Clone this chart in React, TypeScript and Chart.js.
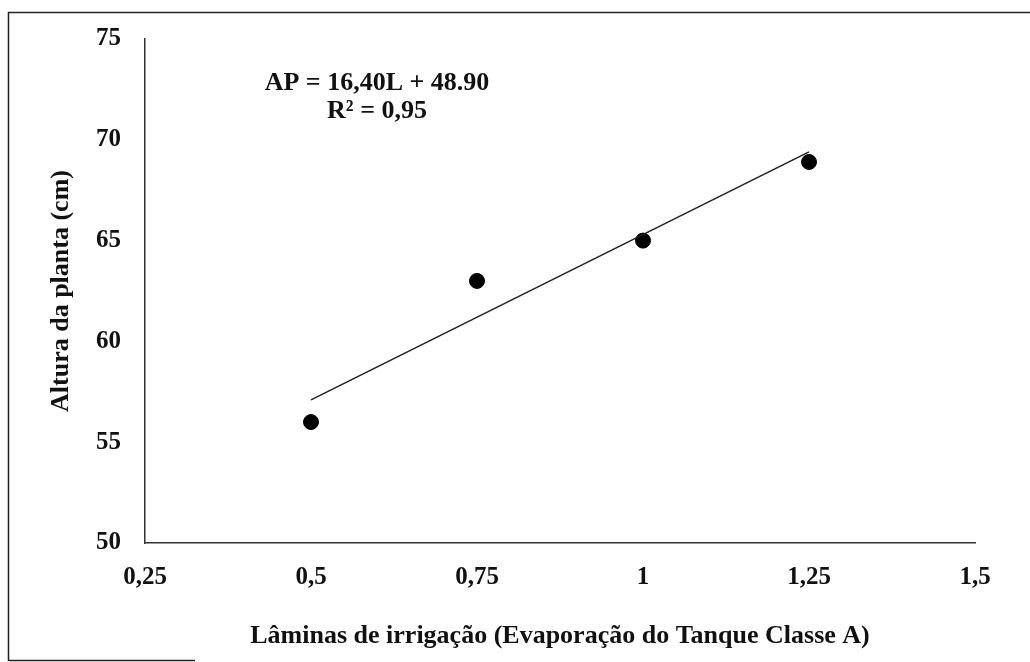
import React, { useEffect, useRef } from "react";
import { Chart, registerables } from "chart.js";

Chart.register(...registerables);

const laminas = [0.5, 0.75, 1, 1.25];
const altura = [56, 63, 65, 68.9];
const trendX = [0.5, 1.25];
const trendY = [57.1, 69.4];
const xTickValues = [0.25, 0.5, 0.75, 1, 1.25, 1.5];
const xTickLabels = ["0,25", "0,5", "0,75", "1", "1,25", "1,5"];
const equationLines = ["AP = 16,40L + 48.90", "R² = 0,95"];
const xTitle = "Lâminas de irrigação (Evaporação do Tanque Classe A)";
const yTitle = "Altura da planta (cm)";

const FONT = "'Liberation Serif', 'Times New Roman', serif";
const LEFT_PAD = 42;

const framePlugin = {
  id: "frameAndEquation",
  afterDraw(chart: any) {
    const ctx = chart.ctx;
    ctx.save();
    ctx.strokeStyle = "#222";
    ctx.lineWidth = 1.5;
    ctx.beginPath();
    ctx.moveTo(8.5, 661);
    ctx.lineTo(8.5, 12.5);
    ctx.lineTo(1030, 12.5);
    ctx.stroke();
    ctx.beginPath();
    ctx.moveTo(8.5, 660.5);
    ctx.lineTo(195, 660.5);
    ctx.stroke();
    ctx.fillStyle = "#111";
    ctx.font = `bold 26px ${FONT}`;
    ctx.textAlign = "center";
    ctx.textBaseline = "middle";
    const xs = chart.scales.x;
    const ys = chart.scales.y;
    const cx = xs.getPixelForValue(0.25) + 232;
    const cy = ys.getPixelForValue(75) + 44;
    equationLines.forEach((t, i) => ctx.fillText(t, cx, cy + i * 28));
    ctx.restore();
  },
};

export default function App() {
  const ref = useRef<HTMLCanvasElement>(null);
  useEffect(() => {
    const chart = new Chart(ref.current!, {
      type: "scatter",
      data: {
        datasets: [
          {
            type: "line",
            label: "Tendência",
            data: trendX.map((x, i) => ({ x, y: trendY[i] })),
            borderColor: "#222",
            borderWidth: 1.6,
            pointRadius: 0,
            fill: false,
          },
          {
            label: "Altura",
            data: laminas.map((x, i) => ({ x, y: altura[i] })),
            backgroundColor: "#000",
            borderColor: "#000",
            pointRadius: 7.5,
            pointHoverRadius: 7.5,
          },
        ] as any,
      },
      options: {
        responsive: false,
        animation: false,
        layout: { padding: { left: LEFT_PAD, top: 36, right: 55, bottom: 10 } },
        plugins: { legend: { display: false }, tooltip: { enabled: false } },
        scales: {
          x: {
            type: "linear",
            min: 0.25,
            max: 1.5,
            afterBuildTicks: (s: any) => {
              s.ticks = xTickValues.map((v) => ({ value: v }));
            },
            afterFit: (s: any) => {
              s.height = 109;
            },
            grid: { display: false, drawTicks: false },
            border: { display: true, color: "#333", width: 1.5 },
            ticks: {
              padding: 20,
              color: "#111",
              font: { family: FONT, size: 25, weight: "bold" },
              callback: (v: any) => {
                const i = xTickValues.indexOf(Number(v));
                return i >= 0 ? xTickLabels[i] : "";
              },
              maxRotation: 0,
            },
            title: {
              display: true,
              text: xTitle,
              color: "#111",
              font: { family: FONT, size: 26, weight: "bold" },
              padding: { top: 4, bottom: 0 },
            },
          },
          y: {
            min: 50,
            max: 75,
            afterFit: (s: any) => {
              s.width = 145 - LEFT_PAD;
            },
            grid: { display: false, drawTicks: false },
            border: { display: true, color: "#333", width: 1.5 },
            ticks: {
              stepSize: 5,
              padding: 24,
              color: "#111",
              font: { family: FONT, size: 25, weight: "bold" },
            },
            title: {
              display: true,
              text: yTitle,
              color: "#111",
              font: { family: FONT, size: 26, weight: "bold" },
              padding: { top: 4, bottom: 4 },
            },
          },
        },
      } as any,
      plugins: [framePlugin],
    });
    return () => chart.destroy();
  }, []);
  return (
    <div style={{ position: "absolute", left: 0, top: 0, width: 1030, height: 662, background: "#fff" }}>
      <canvas ref={ref} width={1030} height={662} />
    </div>
  );
}
